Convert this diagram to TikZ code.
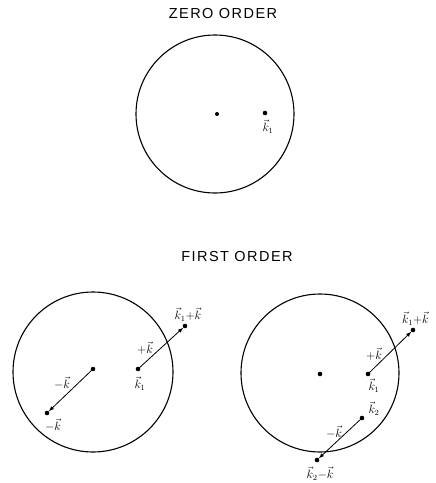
\documentclass[tikz,border=0pt]{standalone}
\usepackage{fontspec}
\newfontfamily\titlefont[LetterSpace=10]{Liberation Sans}
\tikzset{
  ring/.style={line width=1.1pt},
  vecline/.style={line width=0.8pt,->,shorten >=2.5pt},
  title/.style={font=\titlefont\fontsize{14.5}{15}\selectfont},
  lbl/.style={font=\fontsize{12}{12}\selectfont,inner sep=0pt}
}
\begin{document}
\begin{tikzpicture}[x=1pt,y=-1pt,line cap=round,line join=round,>=latex]
  \useasboundingbox (0,0) rectangle (436,483);
  % zero order
  \node[title] (ttlzero) at (223,14) {ZERO ORDER};
  \draw[ring] (215,114) circle (79pt);
  \coordinate (ozero) at (217,114);
  \coordinate (kzero) at (265,113);
  \fill (ozero) circle (2pt);
  \fill (kzero) circle (2.3pt);
  \node[lbl] (kzerolbl) at (268,127) {$\vec{k}_1$};
  % first order
  \node[title] (ttlfirst) at (237,257) {FIRST ORDER};
  % left circle
  \draw[ring] (93,372) circle (80pt);
  \coordinate (oleft) at (93,369);
  \coordinate (kleft) at (138,369);
  \coordinate (kplusleft) at (185,326);
  \coordinate (kminusleft) at (47,413);
  \foreach \p in {oleft,kleft,kplusleft,kminusleft} \fill (\p) circle (2.3pt);
  \draw[vecline] (kleft) -- (kplusleft);
  \draw[vecline] (oleft) -- (kminusleft);
  \node[lbl] (kplusleftlbl) at (188,315) {$\vec{k}_1{+}\vec{k}$};
  \node[lbl] (plusleftlbl) at (145,348) {${+}\vec{k}$};
  \node[lbl] (kleftlbl) at (140,384) {$\vec{k}_1$};
  \node[lbl] (minusleftlbl) at (62,383) {${-}\vec{k}$};
  \node[lbl] (kminusleftlbl) at (53,425) {${-}\vec{k}$};
  % right circle
  \draw[ring] (320,373) circle (79pt);
  \coordinate (oright) at (320,374);
  \coordinate (kright) at (368,374);
  \coordinate (kplusright) at (413,330);
  \coordinate (ktworight) at (362,418);
  \coordinate (kminusright) at (317,460);
  \foreach \p in {oright,kright,kplusright,ktworight,kminusright} \fill (\p) circle (2.3pt);
  \draw[vecline] (kright) -- (kplusright);
  \draw[vecline] (ktworight) -- (kminusright);
  \node[lbl,anchor=west] (kplusrightlbl) at (402,319) {$\vec{k}_1{+}\vec{k}$};
  \node[lbl] (plusrightlbl) at (374,354) {${+}\vec{k}$};
  \node[lbl] (krightlbl) at (374,386) {$\vec{k}_1$};
  \node[lbl] (ktworightlbl) at (374,409) {$\vec{k}_2$};
  \node[lbl] (minusrightlbl) at (334,432) {${-}\vec{k}$};
  \node[lbl] (kminusrightlbl) at (320,474) {$\vec{k}_2{-}\vec{k}$};
\end{tikzpicture}
\end{document}
